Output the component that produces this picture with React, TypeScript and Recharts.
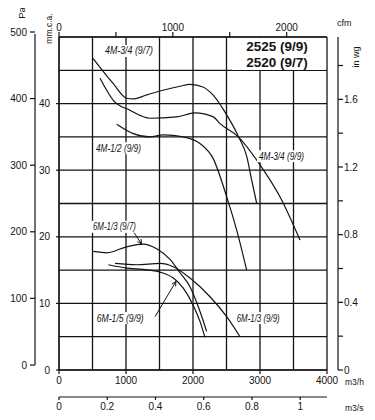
import React from 'react';
import {
  ComposedChart,
  Line,
  XAxis,
  YAxis,
  CartesianGrid,
  ReferenceDot,
  ReferenceLine,
  Customized,
} from 'recharts';

const INK = '#141414';
const FONT = "'Liberation Sans', Arial, Helvetica, sans-serif";
const NARROW = "'Liberation Sans Narrow', 'Liberation Sans', Arial, sans-serif";

// flow in m3/h, pressure in mm.c.a.
const q4M34_97 = [507, 810, 1010, 1104, 1309, 1552, 1806, 1955, 2149, 2298, 2503, 2676, 2801, 2876, 2951];
const p4M34_97 = [46.8, 43.0, 40.8, 40.7, 41.3, 42.0, 42.6, 42.9, 42.5, 41.3, 38.3, 35.1, 32.1, 28.5, 25.0];

const q4M34_99 = [612, 810, 1060, 1358, 1757, 2030, 2303, 2403, 2676, 3000, 3298, 3597];
const p4M34_99 = [43.8, 40.5, 39.0, 37.8, 38.0, 38.6, 38.0, 37.0, 35.0, 30.8, 26.0, 19.5];

const q4M12_99 = [861, 1109, 1358, 1557, 1855, 2104, 2303, 2503, 2652, 2801];
const p4M12_99 = [36.9, 35.5, 35.0, 35.3, 35.0, 34.0, 31.7, 26.0, 21.0, 15.0];

const q6M13_97 = [512, 712, 1010, 1258, 1458, 1657, 1806, 1955, 2079, 2204];
const p6M13_97 = [17.8, 17.6, 18.5, 18.9, 18.2, 16.6, 14.6, 12.5, 9.5, 5.8];

const q6M15_99 = [736, 1010, 1258, 1507, 1706, 1855, 2004, 2104, 2179];
const p6M15_99 = [15.8, 15.3, 15.1, 14.7, 13.8, 12.3, 9.7, 7.3, 4.9];

const q6M13_99 = [836, 1160, 1508, 1706, 1955, 2254, 2503, 2701];
const p6M13_99 = [16.0, 15.8, 16.0, 15.5, 13.8, 11.0, 8.0, 5.0];

// axis ticks and grid
const flowTicks = [0, 1000, 2000, 3000, 4000];
const flowSecTicks = [0, 0.2, 0.4, 0.6, 0.8, 1];
const cfmTicks = [0, 500, 1000, 1500, 2000];
const mmTicks = [0, 10, 20, 30, 40];
const paTicks = [0, 100, 200, 300, 400, 500];
const wgTicks = [0, 0.2, 0.4, 0.6, 0.8, 1.0, 1.2, 1.4, 1.6, 1.8];
const gridFlow = [0, 500, 1000, 1500, 2000, 2500, 3000, 3500, 4000];
const gridPress = [0, 5, 10, 15, 20, 25, 30, 35, 40, 45, 50];

// unit conversions for the secondary scales
const M3H_PER_CFM = 1.699;
const M3H_PER_M3S = 3600;
const MM_PER_INWG = 25.4;
const PA_PER_MM = 9.81;

const toPoints = (q: number[], p: number[]) => q.map((v, i) => ({ q: v, p: p[i] }));

const curves = [
  toPoints(q4M34_97, p4M34_97),
  toPoints(q4M34_99, p4M34_99),
  toPoints(q4M12_99, p4M12_99),
  toPoints(q6M13_97, p6M13_97),
  toPoints(q6M15_99, p6M15_99),
  toPoints(q6M13_99, p6M13_99),
];

// same curve in imperial / SI units, so the secondary axes get a scale
const imperial = q4M34_99.map((v, i) => ({ cfm: v / M3H_PER_CFM, wg: p4M34_99[i] / MM_PER_INWG }));
const si = q4M34_99.map((v, i) => ({ s: v / M3H_PER_M3S, pa: p4M34_99[i] * PA_PER_MM }));

// curve names, placed in data units
const notes = [
  { text: '4M-3/4 (9/7)', q: 687, p: 47.9, w: 48 },
  { text: '4M-1/2 (9/9)', q: 552, p: 33.3, w: 45 },
  { text: '4M-3/4 (9/9)', q: 2985, p: 32.1, w: 45 },
  { text: '6M-1/3 (9/7)', q: 507, p: 21.5, w: 43 },
  { text: '6M-1/5 (9/9)', q: 563, p: 7.8, w: 47 },
  { text: '6M-1/3 (9/9)', q: 2652, p: 7.8, w: 43 },
];

const arrows = [
  [{ x: 1109, y: 20.8 }, { x: 1234, y: 18.9 }],
  [{ x: 1433, y: 8.0 }, { x: 1746, y: 13.3 }],
];

const tickStyle = { fill: INK, fontSize: 10, fontFamily: FONT };
const axisStroke = { stroke: INK, strokeWidth: 1.2 };

const NoteLabel = ({ cx, cy, text, w }: any) => (
  <g>
    <rect x={cx - 2} y={cy - 6} width={w + 4} height={12} fill="#fff" />
    <text
      x={cx}
      y={cy}
      dy={3.5}
      fontFamily={NARROW}
      fontStyle="italic"
      fontSize={10}
      fill={INK}
      textLength={w}
      lengthAdjust="spacingAndGlyphs"
    >
      {text}
    </text>
  </g>
);

const ModelBox = ({ cx, cy }: any) => (
  <g>
    <rect x={cx - 45} y={cy - 17} width={94} height={32} fill="#fff" />
    <text x={cx} y={cy - 8} dy={4.5} textAnchor="middle" fontFamily={FONT} fontWeight="bold" fontSize={13.5} fill={INK}>
      2525 (9/9)
    </text>
    <text x={cx} y={cy + 8} dy={4.5} textAnchor="middle" fontFamily={FONT} fontWeight="bold" fontSize={13.5} fill={INK}>
      2520 (9/7)
    </text>
  </g>
);

const Arrow = ({ x1, y1, x2, y2 }: any) => {
  const a = Math.atan2(y2 - y1, x2 - x1);
  const h = 5;
  const wing = (d: number) => `${x2 - h * Math.cos(a + d)},${y2 - h * Math.sin(a + d)}`;
  return (
    <g>
      <line x1={x1} y1={y1} x2={x2} y2={y2} stroke={INK} strokeWidth={1} />
      <polyline points={`${wing(0.45)} ${x2},${y2} ${wing(-0.45)}`} fill="none" stroke={INK} strokeWidth={1} />
    </g>
  );
};

// Pa scale sits a few px higher than the mm scale in the original
const PaTick = ({ x, y, payload }: any) => (
  <g transform="translate(0,-5)">
    <line x1={x - 5} x2={x} y1={y} y2={y} stroke={INK} strokeWidth={1.2} />
    {payload.value === 0 && <line x1={x} x2={x} y1={y} y2={y - 331} stroke={INK} strokeWidth={1.2} />}
    <text x={x - 8} y={y} dy={3.5} textAnchor="end" fontSize={10} fontFamily={FONT} fill={INK}>
      {payload.value}
    </text>
  </g>
);

const AxisTitles = () => (
  <g fill={INK} fontFamily={FONT}>
    <text x={13} y={5} fontSize={9.5} textAnchor="middle" dominantBaseline="central" transform="rotate(-90 13 5)">
      Pa
    </text>
    <text x={40.5} y={20.5} fontSize={8.5} textAnchor="middle" dominantBaseline="central" transform="rotate(-90 40.5 20.5)">
      mm.c.a.
    </text>
    <text x={329} y={15} fontSize={9} dominantBaseline="central">
      cfm
    </text>
    <text x={348} y={49} fontSize={9} textAnchor="middle" dominantBaseline="central" transform="rotate(-90 348 49)">
      in wg
    </text>
    <text x={337} y={374} fontSize={8.5} dominantBaseline="central">
      m3/h
    </text>
    <text x={337} y={400} fontSize={8.5} dominantBaseline="central">
      m3/s
    </text>
  </g>
);

export default function App() {
  return (
    <div style={{ width: 367, height: 410 }}>
      <ComposedChart width={367} height={410} margin={{ top: 0, right: 0, bottom: 0, left: 0 }}>
        <CartesianGrid
          xAxisId="q"
          yAxisId="mm"
          verticalValues={gridFlow}
          horizontalValues={gridPress}
          stroke={INK}
          strokeWidth={1.3}
        />
        <XAxis xAxisId="gapTop" orientation="top" type="number" domain={[0, 1]} height={5} axisLine={false} tickLine={false} tick={false} />
        <XAxis
          xAxisId="cfm"
          dataKey="cfm"
          orientation="top"
          type="number"
          domain={[0, 4000 / M3H_PER_CFM]}
          ticks={cfmTicks}
          interval={0}
          height={24}
          tickSize={5}
          tickMargin={1}
          tick={tickStyle}
          tickFormatter={(v: number) => (v % 1000 === 0 ? String(v) : '')}
          axisLine={axisStroke}
          tickLine={axisStroke}
        />
        <XAxis
          xAxisId="q"
          dataKey="q"
          type="number"
          domain={[0, 4000]}
          ticks={flowTicks}
          interval={0}
          height={27}
          tickSize={4}
          tickMargin={3}
          tick={tickStyle}
          axisLine={axisStroke}
          tickLine={axisStroke}
        />
        <XAxis
          xAxisId="s"
          dataKey="s"
          type="number"
          domain={[0, 4000 / M3H_PER_M3S]}
          ticks={flowSecTicks}
          interval={0}
          height={21}
          tickSize={3}
          tickMargin={3}
          tick={tickStyle}
          axisLine={axisStroke}
          tickLine={axisStroke}
        />
        <YAxis
          yAxisId="mm"
          type="number"
          domain={[0, 50]}
          ticks={mmTicks}
          interval={0}
          width={24}
          tickSize={3}
          tickMargin={6}
          tick={tickStyle}
          axisLine={axisStroke}
          tickLine={axisStroke}
        />
        <YAxis
          yAxisId="pa"
          type="number"
          domain={[0, 500]}
          ticks={paTicks}
          interval={0}
          width={27}
          tickSize={0}
          tickMargin={0}
          tick={<PaTick />}
          axisLine={false}
          tickLine={false}
        />
        <YAxis yAxisId="gap" orientation="right" type="number" domain={[0, 1]} width={11} axisLine={false} tickLine={false} tick={false} />
        <YAxis
          yAxisId="wg"
          orientation="right"
          type="number"
          domain={[0, 50 / MM_PER_INWG]}
          ticks={wgTicks}
          interval={0}
          width={37}
          tickSize={5}
          tickMargin={1}
          tick={tickStyle}
          tickFormatter={(v: number) => (Math.round(v * 10) % 4 === 0 ? String(Math.round(v * 10) / 10) : '')}
          axisLine={axisStroke}
          tickLine={axisStroke}
        />
        {curves.map((data, i) => (
          <Line
            key={i}
            data={data}
            dataKey="p"
            xAxisId="q"
            yAxisId="mm"
            type="monotone"
            stroke={INK}
            strokeWidth={1.2}
            dot={false}
            activeDot={false}
            isAnimationActive={false}
          />
        ))}
        <Line data={imperial} dataKey="wg" xAxisId="cfm" yAxisId="wg" stroke="none" dot={false} activeDot={false} isAnimationActive={false} />
        <Line data={si} dataKey="pa" xAxisId="s" yAxisId="pa" stroke="none" dot={false} activeDot={false} isAnimationActive={false} />
        {arrows.map((seg, i) => (
          <ReferenceLine key={`a${i}`} xAxisId="q" yAxisId="mm" segment={seg} shape={<Arrow />} />
        ))}
        <ReferenceDot xAxisId="q" yAxisId="mm" x={3254} y={47.3} r={0} shape={(p: any) => <ModelBox {...p} />} />
        {notes.map((n) => (
          <ReferenceDot
            key={n.text + n.q}
            xAxisId="q"
            yAxisId="mm"
            x={n.q}
            y={n.p}
            r={0}
            shape={(p: any) => <NoteLabel {...p} text={n.text} w={n.w} />}
          />
        ))}
        <Customized component={AxisTitles} />
      </ComposedChart>
    </div>
  );
}
